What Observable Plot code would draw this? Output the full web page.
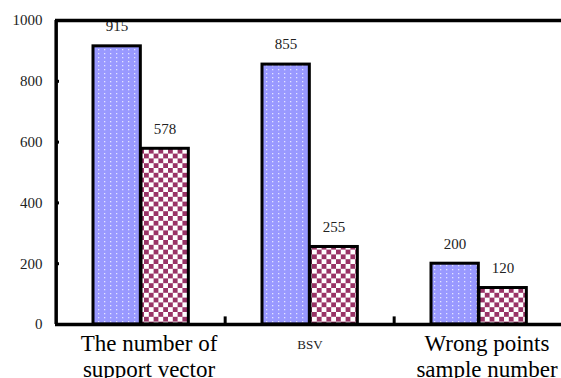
<!DOCTYPE html>
<html>
<head>
<meta charset="utf-8">
<script src="https://cdn.jsdelivr.net/npm/d3@7"></script>
<script src="https://cdn.jsdelivr.net/npm/@observablehq/plot@0.6"></script>
<style>
  html, body { margin: 0; padding: 0; background: #fff; overflow: hidden; }
  svg text { font-family: "Liberation Serif", serif; }
</style>
</head>
<body>
<div id="chart"></div>
<script>
// ---- data ----
const categories = ["The number of\nsupport vector", "BSV", "Wrong points\nsample number"];
const seriesA = [915, 855, 200];   // dotted blue bars
const seriesB = [578, 255, 120];   // checkered bars
const yTicks = [0, 200, 400, 600, 800, 1000];

const rowsA = categories.map((c, i) => ({cat: c, v: seriesA[i]}));
const rowsB = categories.map((c, i) => ({cat: c, v: seriesB[i]}));

const W = 561, H = 378, mL = 55, mR = -3;
const band = (W - mR - mL) / categories.length;
const FF = "Liberation Serif";

const svg = Plot.plot({
  width: W,
  height: H,
  marginLeft: mL,
  marginRight: mR,
  marginTop: 20,
  marginBottom: 54,
  style: {fontFamily: FF, fontSize: "15px", background: "#fff", color: "#000", overflow: "visible"},
  x: {domain: categories, type: "band", padding: 0, axis: null},
  y: {domain: [0, 1000], axis: null},
  marks: [
    Plot.barY(rowsA, {x: "cat", y: "v", fill: "url(#dots)", stroke: "#000", strokeWidth: 3, insetLeft: 37, insetRight: band - 85}),
    Plot.barY(rowsB, {x: "cat", y: "v", fill: "url(#checker)", stroke: "#000", strokeWidth: 3, insetLeft: 85, insetRight: band - 133}),
    Plot.text(rowsA, {x: "cat", y: "v", text: d => String(d.v), dx: -24, dy: -20, fill: "#222", fontSize: 15, fontFamily: FF}),
    Plot.text(rowsB, {x: "cat", y: "v", text: d => String(d.v), dx: 24, dy: -20, fill: "#222", fontSize: 15, fontFamily: FF}),
    Plot.ruleY([1000], {strokeWidth: 3.5}),
    Plot.ruleY([0], {strokeWidth: 3.5}),
    Plot.ruleX([categories[0]], {x: d => d, y1: 0, y2: 1000, dx: -band / 2, strokeWidth: 3.5}),
    Plot.ruleX(categories.slice(1), {x: d => d, y1: 0, y2: 25, dx: -band / 2, strokeWidth: 3}),
    Plot.axisY({ticks: yTicks, label: null, tickSize: -4, tickPadding: 17, strokeWidth: 3, fontSize: 15, fontFamily: FF, fill: "#222", tickFormat: d => String(d)}),
    Plot.text(categories.filter(c => c !== "BSV"), {x: d => d, frameAnchor: "bottom", lineAnchor: "top", dx: 8, dy: 8, fontSize: 23, lineHeight: 1.13, fill: "#000", fontFamily: FF, text: d => d}),
    Plot.text(categories.filter(c => c === "BSV"), {x: d => d, frameAnchor: "bottom", lineAnchor: "top", dy: 15, fontSize: 13, fill: "#222", fontFamily: FF, text: d => d})
  ]
});

svg.insertAdjacentHTML("afterbegin",
  `<defs>
    <pattern id="dots" width="6" height="4" patternUnits="userSpaceOnUse">
      <rect width="6" height="4" fill="#9999ff"/>
      <rect x="2" y="1" width="1.3" height="1.3" fill="#e4e4ff"/>
    </pattern>
    <pattern id="checker" width="9.6" height="9.6" patternUnits="userSpaceOnUse">
      <rect width="9.6" height="9.6" fill="#ffffff"/>
      <rect x="0" y="0" width="4.8" height="4.8" fill="#993366"/>
      <rect x="4.8" y="4.8" width="4.8" height="4.8" fill="#993366"/>
    </pattern>
  </defs>`);

document.getElementById("chart").appendChild(svg);
</script>
</body>
</html>
